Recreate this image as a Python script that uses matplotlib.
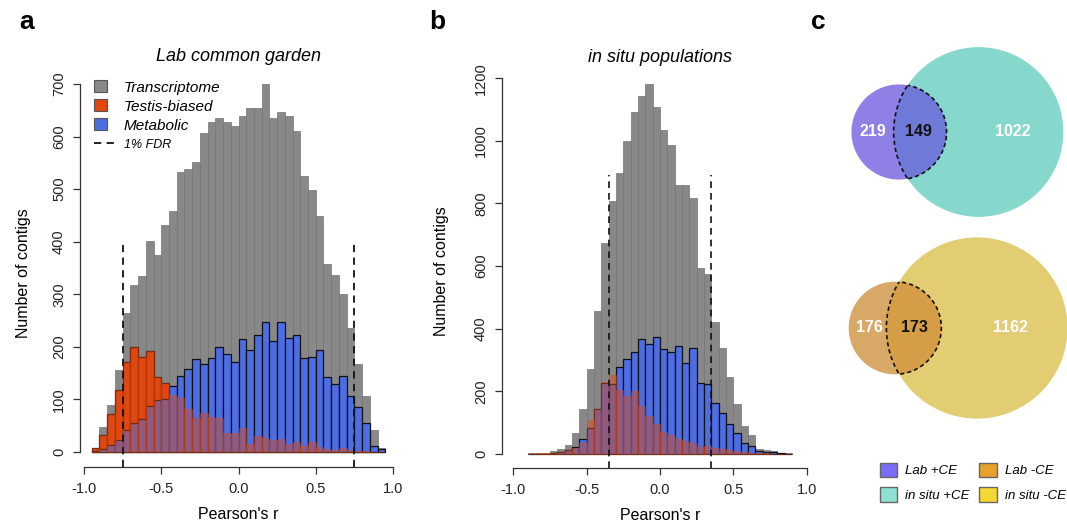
import numpy as np
import matplotlib
matplotlib.use('Agg')
import matplotlib.pyplot as plt
from matplotlib.patches import Patch, Circle
from matplotlib.lines import Line2D
from matplotlib.legend_handler import HandlerLine2D

plt.rcParams['font.family'] = ['Liberation Sans', 'DejaVu Sans']

# panel a: lab common garden, 0.05 wide bins from -0.95 to 0.95
lab_edges = np.round(np.arange(-0.95, 0.949, 0.05), 2)
lab_all = [8, 47, 90, 156, 264, 318, 334, 401, 374, 432, 459, 533, 538, 552, 607,
           627, 635, 627, 621, 640, 655, 655, 700, 635, 646, 639, 610, 525, 498, 448,
           358, 337, 301, 236, 167, 107, 42, 8]
lab_testis = [8, 33, 72, 118, 172, 200, 181, 193, 143, 132, 108, 103, 82, 64, 75,
              67, 64, 37, 37, 46, 16, 30, 26, 22, 25, 15, 20, 11, 19, 9,
              5, 4, 7, 4, 2, 1, 0, 0]
lab_metab = [1, 5, 13, 22, 41, 56, 63, 88, 98, 100, 126, 145, 158, 177, 167,
             179, 200, 187, 171, 215, 194, 223, 247, 212, 248, 217, 223, 179, 181, 194,
             142, 130, 145, 106, 86, 56, 11, 5]
lab_fdr = 0.75

# panel b: in situ populations, bins from -0.9 to 0.9
situ_edges = np.round(np.arange(-0.9, 0.899, 0.05), 2)
situ_all = [2, 4, 4, 8, 15, 29, 68, 143, 270, 457, 674, 809, 896, 999, 1093,
            1144, 1180, 1109, 1036, 986, 859, 859, 818, 593, 574, 422, 339, 247, 160, 89,
            60, 16, 13, 10, 4, 2]
situ_testis = [1, 2, 2, 3, 6, 12, 18, 34, 108, 144, 231, 252, 204, 185, 202,
               153, 121, 96, 71, 61, 48, 43, 34, 23, 26, 18, 15, 13, 11, 7,
               4, 3, 2, 1, 1, 0]
situ_metab = [0, 1, 1, 2, 5, 12, 23, 47, 82, 143, 228, 225, 277, 302, 327,
              366, 350, 372, 334, 325, 346, 291, 338, 228, 222, 164, 130, 95, 66, 34,
              26, 10, 7, 5, 2, 0]
situ_fdr = 0.35

# panel c: (lab only, shared, in situ only)
venn_plus = [219, 149, 1022]
venn_minus = [176, 173, 1162]

GRAY = '#888888'
RED = '#E2470F'
BLUE = '#4D6DE3'
AXC = '#333333'
DASH = (0, (4, 3))

fig = plt.figure(figsize=(10.67, 5.25), dpi=100)
W, H = 1067.0, 525.0


def px_axes(l, t, r, b):
    return fig.add_axes([l / W, 1 - b / H, (r - l) / W, (b - t) / H])


class LongLine(HandlerLine2D):
    # dashed legend key a bit longer than the squares
    def get_xdata(self, legend, xdescent, ydescent, width, height, fontsize):
        x0 = -xdescent
        return np.array([x0, x0 + width * 1.7]), np.array([x0, x0 + width * 1.7])


def style_axes(ax, yticks, ylabpad):
    for s in ['top', 'right']:
        ax.spines[s].set_visible(False)
    ax.spines['left'].set_bounds(yticks[0], yticks[-1])
    ax.spines['bottom'].set_bounds(-1, 1)
    for s in ['left', 'bottom']:
        ax.spines[s].set_color(AXC)
        ax.spines[s].set_linewidth(0.9)
    ax.set_xticks([-1.0, -0.5, 0.0, 0.5, 1.0])
    ax.set_xticklabels(['-1.0', '-0.5', '0.0', '0.5', '1.0'])
    ax.set_yticks(yticks)
    ax.tick_params(direction='out', length=5, width=0.9, color=AXC,
                   labelsize=10.5, labelcolor='#222222')
    ax.tick_params(axis='x', pad=6)
    ax.tick_params(axis='y', labelrotation=90, pad=5)
    for lab in ax.get_yticklabels():
        lab.set_va('center')
    ax.set_xlabel("Pearson's r", fontsize=11.5, labelpad=8)
    ax.set_ylabel('Number of contigs', fontsize=11.5, labelpad=ylabpad)


# ---- panel a
axa = px_axes(80, 80, 397, 467)
axa.bar(lab_edges, lab_all, width=0.05, align='edge', color=GRAY,
        edgecolor='#747474', linewidth=0.5)
axa.bar(lab_edges, lab_testis, width=0.05, align='edge', color=RED,
        edgecolor='#111111', linewidth=0.9)
axa.bar(lab_edges, lab_metab, width=0.05, align='edge', color=BLUE,
        edgecolor='#111111', linewidth=0.9)
axa.bar(lab_edges, lab_testis, width=0.05, align='edge', color=RED, alpha=0.45,
        edgecolor=RED, linewidth=0.6)
axa.vlines([-lab_fdr, lab_fdr], -28.5, 400, colors='#111111', linestyles=DASH,
           linewidth=1.3, clip_on=False)
axa.set_xlim(-1.026, 1.026)
axa.set_ylim(-28.5, 707.6)
style_axes(axa, list(range(0, 701, 100)), 15)
axa.set_title('Lab common garden', style='italic', fontsize=13, pad=14)

fdr_key = Line2D([], [], color='#111111', ls=DASH, lw=1.3)
handles = [Patch(fc=GRAY, ec='#555555', lw=0.8), Patch(fc=RED, ec='#555555', lw=0.8),
           Patch(fc=BLUE, ec='#555555', lw=0.8), fdr_key]
leg = axa.legend(handles, ['Transcriptome', 'Testis-biased', 'Metabolic', '1% FDR'],
                 loc='upper left', bbox_to_anchor=(0.0, 1.035), frameon=False,
                 prop=dict(style='italic', size=11), handlelength=0.85,
                 handleheight=0.85, handletextpad=1.1, labelspacing=0.3,
                 handler_map={fdr_key: LongLine()})
leg.get_texts()[3].set_fontsize(9)

# ---- panel b
axb = px_axes(502, 75, 818, 468)
axb.bar(situ_edges, situ_all, width=0.05, align='edge', color=GRAY,
        edgecolor='#747474', linewidth=0.5)
axb.bar(situ_edges, situ_metab, width=0.05, align='edge', color=BLUE,
        edgecolor='#111111', linewidth=0.9)
axb.bar(situ_edges, situ_testis, width=0.05, align='edge', color=RED, alpha=0.45,
        edgecolor=RED, linewidth=0.6)
axb.vlines([-situ_fdr, situ_fdr], -44.7, 890, colors='#111111', linestyles=DASH,
           linewidth=1.2, clip_on=False)
axb.set_xlim(-1.077, 1.077)
axb.set_ylim(-44.7, 1210)
style_axes(axb, list(range(0, 1201, 200)), 18)
axb.set_title('in situ populations', style='italic', fontsize=13, pad=9)

# ---- panel c, circle areas proportional to counts
axc = px_axes(820, 30, 1067, 440)
axc.set_xlim(820, 1067)
axc.set_ylim(440, 30)
axc.axis('off')
scale = 2.48


def venn(ax, counts, cx, cy, dist, c_small, c_big, c_mid):
    r1 = scale * np.sqrt(counts[0] + counts[1])
    r2 = scale * np.sqrt(counts[1] + counts[2])
    c1 = (cx, cy)
    c2 = (cx + dist, cy)
    ax.add_patch(Circle(c2, r2, fc=c_big, ec='none', clip_on=False))
    ax.add_patch(Circle(c1, r1, fc=c_small, ec='none'))
    big_clip = Circle(c2, r2, transform=ax.transData)
    small_clip = Circle(c1, r1, transform=ax.transData)
    lens = Circle(c1, r1, fc=c_mid, ec='#111111', lw=1.2, ls=(0, (2.5, 1.8)))
    ax.add_patch(lens)
    lens.set_clip_path(big_clip)
    arc = Circle(c2, r2, fc='none', ec='#111111', lw=1.2, ls=(0, (2.5, 1.8)))
    ax.add_patch(arc)
    arc.set_clip_path(small_clip)
    kw = dict(ha='center', va='center', fontsize=11.5, fontweight='bold')
    ax.text(cx - 26, cy, str(counts[0]), color='white', **kw)
    ax.text(cx + 19, cy, str(counts[1]), color='#111111', **kw)
    ax.text(cx + dist + 34, cy, str(counts[2]), color='white', **kw)


venn(axc, venn_plus, 899, 132, 79.5, '#8F80E6', '#87D8CC', '#6F7AD8')
venn(axc, venn_minus, 895, 328, 82, '#D8A866', '#E2CD72', '#D59E46')

vhandles = [Patch(fc='#7B6CF6', ec='#666666'), Patch(fc='#8DE0D3', ec='#666666'),
            Patch(fc='#E8A22C', ec='#666666'), Patch(fc='#F6D834', ec='#666666')]
fig.legend(vhandles, ['Lab +CE', 'in situ +CE', 'Lab -CE', 'in situ -CE'], ncol=2,
           loc='upper left', bbox_to_anchor=(873 / W, 1 - 456 / H), frameon=False,
           prop=dict(style='italic', size=9.5), handlelength=1.35, handleheight=1.35,
           handletextpad=0.6, columnspacing=0.7, labelspacing=0.75, borderpad=0)

# panel letters
for lx, txt in [(27, 'a'), (437, 'b'), (818, 'c')]:
    fig.text(lx / W, 1 - 22 / H, txt, fontsize=19, fontweight='bold', ha='center', va='center')

fig.savefig('out.png', dpi=100)
